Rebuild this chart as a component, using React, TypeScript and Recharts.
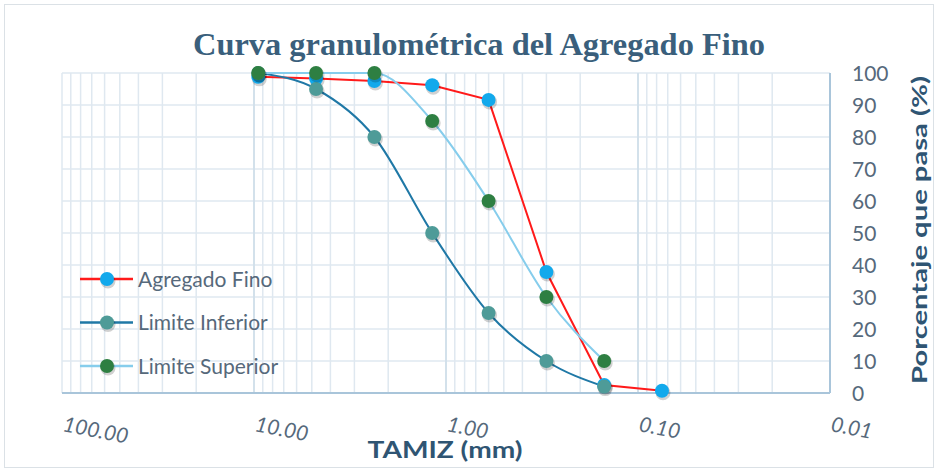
import {
  LineChart,
  Line,
  XAxis,
  YAxis,
  CartesianGrid,
  ReferenceLine,
} from "recharts";

// tamices (mm) y porcentaje que pasa
const TAMICES_FINO = [9.5, 4.75, 2.36, 1.18, 0.6, 0.3, 0.15, 0.075];
const PASA_FINO = [98.8, 98.3, 97.5, 96.2, 91.6, 37.8, 2.5, 0.7];

const TAMICES_LIMITES = [9.5, 4.75, 2.36, 1.18, 0.6, 0.3, 0.15];
const LIMITE_INFERIOR = [100, 95, 80, 50, 25, 10, 2];
const LIMITE_SUPERIOR = [100, 100, 100, 85, 60, 30, 10];

const DECADAS = [100, 10, 1, 0.1, 0.01];
const Y_TICKS = [0, 10, 20, 30, 40, 50, 60, 70, 80, 90, 100];

const SERIES = [
  { name: "Agregado Fino", line: "#ff1a1a", dot: "#12a9ec" },
  { name: "Limite Inferior", line: "#1f78a6", dot: "#4e9b98" },
  { name: "Limite Superior", line: "#86cdec", dot: "#2e7f42" },
];

const fino = TAMICES_FINO.map((t, i) => ({ x: t, y: PASA_FINO[i] }));
const inferior = TAMICES_LIMITES.map((t, i) => ({ x: t, y: LIMITE_INFERIOR[i] }));
const superior = TAMICES_LIMITES.map((t, i) => ({ x: t, y: LIMITE_SUPERIOR[i] }));

// lineas de la grilla logaritmica
const gridTicks: number[] = [];
[0.01, 0.1, 1, 10].forEach((d) => {
  for (let k = 1; k <= 9; k++) gridTicks.push(+(k * d).toFixed(4));
});
gridTicks.push(100);

const TEXT = "#56697b";
const DARK = "#2f5573";
const AXIS = "#a9c5da";
const FONT = "Lato, sans-serif";

const dotRenderer = (fill: string) => (props: any) => {
  const { cx, cy, index } = props;
  if (cx == null || cy == null) return <g key={index} />;
  return (
    <g key={index}>
      <circle cx={cx + 1} cy={cy + 2} r={7.5} fill="rgba(0,0,0,0.18)" />
      <circle cx={cx} cy={cy} r={7} fill={fill} />
    </g>
  );
};

const XTick = (props: any) => {
  const { x, payload } = props;
  const v = payload.value;
  if (!DECADAS.some((d) => Math.abs(d - v) < 1e-9)) return <g />;
  const y = 431;
  return (
    <text
      x={x}
      y={y}
      transform={`rotate(11, ${x}, ${y})`}
      fontFamily={FONT}
      fontStyle="italic"
      fontSize={21}
      fill={TEXT}
    >
      {v.toFixed(2)}
    </text>
  );
};

const YTick = (props: any) => {
  const { y, payload } = props;
  return (
    <text x={852} y={y + 7.5} fontFamily={FONT} fontSize={21} fill={TEXT}>
      {payload.value}
    </text>
  );
};

export default function App() {
  return (
    <div
      style={{
        position: "absolute",
        left: 0,
        top: 0,
        width: 938,
        height: 470,
        background: "#fff",
      }}
    >
      <LineChart
        width={938}
        height={470}
        margin={{ top: 73, right: 8, left: 62, bottom: 17 }}
      >
        <CartesianGrid stroke="#dfe8f0" strokeWidth={1.5} />
        <XAxis
          type="number"
          dataKey="x"
          scale="log"
          domain={[0.01, 100]}
          reversed
          allowDataOverflow
          ticks={gridTicks}
          interval={0}
          tick={<XTick />}
          tickLine={false}
          axisLine={{ stroke: AXIS, strokeWidth: 2 }}
          height={60}
        />
        <YAxis
          orientation="right"
          type="number"
          domain={[0, 100]}
          ticks={Y_TICKS}
          interval={0}
          tick={<YTick />}
          tickLine={false}
          axisLine={{ stroke: AXIS, strokeWidth: 2 }}
          width={100}
        />
        {[10, 1, 0.1].map((d) => (
          <ReferenceLine key={d} x={d} stroke="#cddce8" strokeWidth={1.5} />
        ))}
        <Line
          data={fino}
          dataKey="y"
          name={SERIES[0].name}
          type="linear"
          stroke={SERIES[0].line}
          strokeWidth={2}
          dot={dotRenderer(SERIES[0].dot)}
          isAnimationActive={false}
        />
        <Line
          data={inferior}
          dataKey="y"
          name={SERIES[1].name}
          type="monotone"
          stroke={SERIES[1].line}
          strokeWidth={2}
          dot={dotRenderer(SERIES[1].dot)}
          isAnimationActive={false}
        />
        <Line
          data={superior}
          dataKey="y"
          name={SERIES[2].name}
          type="monotone"
          stroke={SERIES[2].line}
          strokeWidth={2}
          dot={dotRenderer(SERIES[2].dot)}
          isAnimationActive={false}
        />
      </LineChart>

      <svg
        width={938}
        height={470}
        style={{ position: "absolute", left: 0, top: 0, pointerEvents: "none" }}
      >
        <rect x={4.5} y={4.5} width={929} height={463} fill="none" stroke="#dbe1e6" />
        <text
          x={479}
          y={55}
          textAnchor="middle"
          fontFamily="'Liberation Serif', serif"
          fontWeight="bold"
          fontSize={32}
          fill="#3a5f7c"
          textLength={572}
          lengthAdjust="spacingAndGlyphs"
        >
          Curva granulométrica del Agregado Fino
        </text>
        <text
          x={445}
          y={458}
          textAnchor="middle"
          fontFamily={FONT}
          fontWeight="bold"
          fontSize={23}
          fill={DARK}
          textLength={155}
          lengthAdjust="spacingAndGlyphs"
        >
          TAMIZ (mm)
        </text>
        <text
          x={927}
          y={230}
          textAnchor="middle"
          transform="rotate(-90, 927, 230)"
          fontFamily={FONT}
          fontWeight="bold"
          fontSize={21}
          fill={DARK}
          textLength={308}
          lengthAdjust="spacingAndGlyphs"
        >
          Porcentaje que pasa (%)
        </text>
        {SERIES.map((s, i) => {
          const cy = 279 + i * 43.5;
          return (
            <g key={s.name}>
              <line x1={80} y1={cy} x2={133} y2={cy} stroke={s.line} strokeWidth={2.5} />
              <circle cx={108} cy={cy + 2} r={7.5} fill="rgba(0,0,0,0.18)" />
              <circle cx={107} cy={cy} r={7} fill={s.dot} />
              <text x={138} y={cy + 7.5} fontFamily={FONT} fontSize={21} fill={TEXT}>
                {s.name}
              </text>
            </g>
          );
        })}
      </svg>
    </div>
  );
}
